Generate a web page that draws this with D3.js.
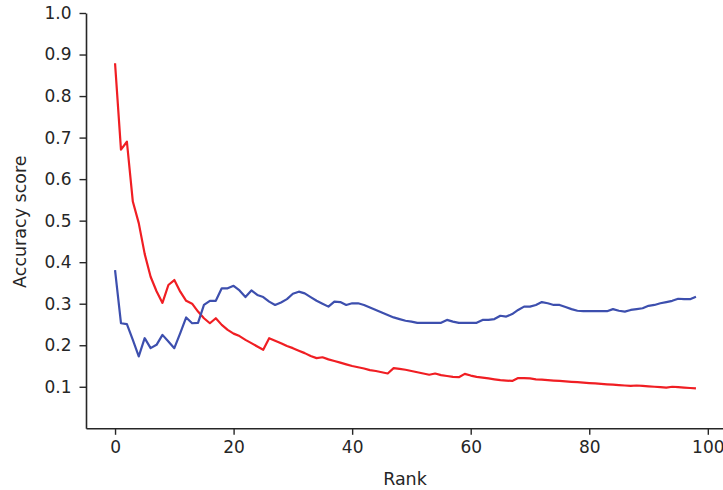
<!DOCTYPE html>
<html>
<head>
<meta charset="utf-8">
<script src="https://cdn.jsdelivr.net/npm/d3@7"></script>
<style>
  html, body { margin: 0; padding: 0; background: #fff; }
  svg { display: block; }
  text { font-family: "DejaVu Sans", sans-serif; fill: #262626; }
</style>
</head>
<body>
<svg id="chart" width="723" height="490"></svg>
<script>
// ---- data ----
const ranks = d3.range(0, 99);
const redSeries = [
  0.879, 0.671, 0.690, 0.546, 0.494, 0.420, 0.365, 0.330, 0.302, 0.345,
  0.357, 0.329, 0.307, 0.300, 0.281, 0.265, 0.253, 0.265, 0.249, 0.237,
  0.228, 0.222, 0.213, 0.205, 0.197, 0.189, 0.217, 0.211, 0.205, 0.198,
  0.193, 0.187, 0.181, 0.174, 0.169, 0.171, 0.166, 0.162, 0.158, 0.154,
  0.150, 0.147, 0.144, 0.140, 0.138, 0.135, 0.132, 0.145, 0.143, 0.141,
  0.138, 0.135, 0.132, 0.129, 0.132, 0.128, 0.126, 0.124, 0.123, 0.131,
  0.127, 0.124, 0.122, 0.120, 0.118, 0.116, 0.115, 0.114, 0.121, 0.121,
  0.120, 0.118, 0.117, 0.116, 0.115, 0.114, 0.113, 0.112, 0.111, 0.110,
  0.109, 0.108, 0.107, 0.106, 0.105, 0.104, 0.103, 0.102, 0.103, 0.102,
  0.101, 0.100, 0.099, 0.098, 0.100, 0.099, 0.098, 0.097, 0.096
];
const blueSeries = [
  0.381, 0.253, 0.251, 0.213, 0.173, 0.217, 0.193, 0.201, 0.225, 0.209,
  0.193, 0.229, 0.267, 0.253, 0.254, 0.297, 0.307, 0.307, 0.337, 0.337,
  0.343, 0.332, 0.316, 0.332, 0.321, 0.316, 0.305, 0.297, 0.303, 0.311,
  0.324, 0.329, 0.325, 0.316, 0.307, 0.300, 0.293, 0.305, 0.304, 0.297,
  0.301, 0.301, 0.297, 0.291, 0.285, 0.279, 0.273, 0.267, 0.263, 0.259,
  0.257, 0.254, 0.254, 0.254, 0.254, 0.254, 0.261, 0.257, 0.254, 0.254,
  0.254, 0.254, 0.261, 0.261, 0.263, 0.271, 0.269, 0.275, 0.285, 0.293,
  0.293, 0.297, 0.304, 0.301, 0.297, 0.297, 0.292, 0.287, 0.283, 0.282,
  0.282, 0.282, 0.282, 0.282, 0.287, 0.283, 0.281, 0.285, 0.287, 0.289,
  0.295, 0.297, 0.301, 0.304, 0.307, 0.312, 0.311, 0.311, 0.317
];
const xTicks = [0, 20, 40, 60, 80, 100];
const yTicks = [0.1, 0.2, 0.3, 0.4, 0.5, 0.6, 0.7, 0.8, 0.9, 1.0];
const xLabel = "Rank";
const yLabel = "Accuracy score";
const redColor = "#f01e23";
const blueColor = "#3d4fae";

(function draw() {
  const svg = d3.select("#chart");
  const pLeft = 86, pRight = 725, pTop = 13, pBottom = 428.3;

  const x = d3.scaleLinear().domain([-4.9, 102.9]).range([pLeft, pRight]);
  const y = d3.scaleLinear().domain([0, 1]).range([pBottom, pTop]);

  const xAxis = d3.axisBottom(x).tickValues(xTicks).tickFormat(d3.format("d"))
    .tickSize(6.5).tickPadding(6).tickSizeOuter(0);
  const yAxis = d3.axisLeft(y).tickValues(yTicks).tickFormat(d3.format(".1f"))
    .tickSize(6.5).tickPadding(8).tickSizeOuter(0);

  const gx = svg.append("g").attr("transform", `translate(0,${pBottom})`).call(xAxis);
  const gy = svg.append("g").attr("transform", `translate(${pLeft},0)`).call(yAxis);

  [gx, gy].forEach(g => {
    g.select(".domain").attr("stroke", "#262626").attr("stroke-width", 1.6);
    g.selectAll(".tick line").attr("stroke", "#262626").attr("stroke-width", 1.4);
    g.selectAll(".tick text").attr("font-family", "DejaVu Sans, sans-serif")
      .attr("font-size", 17).attr("fill", "#262626");
  });

  svg.append("text")
    .attr("x", 405).attr("y", 485)
    .attr("text-anchor", "middle").attr("font-size", 17.5)
    .text(xLabel);
  svg.append("text")
    .attr("transform", `translate(26,${(pTop + pBottom) / 2 + 1}) rotate(-90)`)
    .attr("text-anchor", "middle").attr("font-size", 17.5)
    .text(yLabel);

  const line = d3.line().x((d, i) => x(ranks[i])).y(d => y(d));
  svg.append("path").datum(redSeries)
    .attr("fill", "none").attr("stroke", redColor).attr("stroke-width", 2.2)
    .attr("stroke-linejoin", "round").attr("d", line);
  svg.append("path").datum(blueSeries)
    .attr("fill", "none").attr("stroke", blueColor).attr("stroke-width", 2.2)
    .attr("stroke-linejoin", "round").attr("d", line);
})();
</script>
</body>
</html>
